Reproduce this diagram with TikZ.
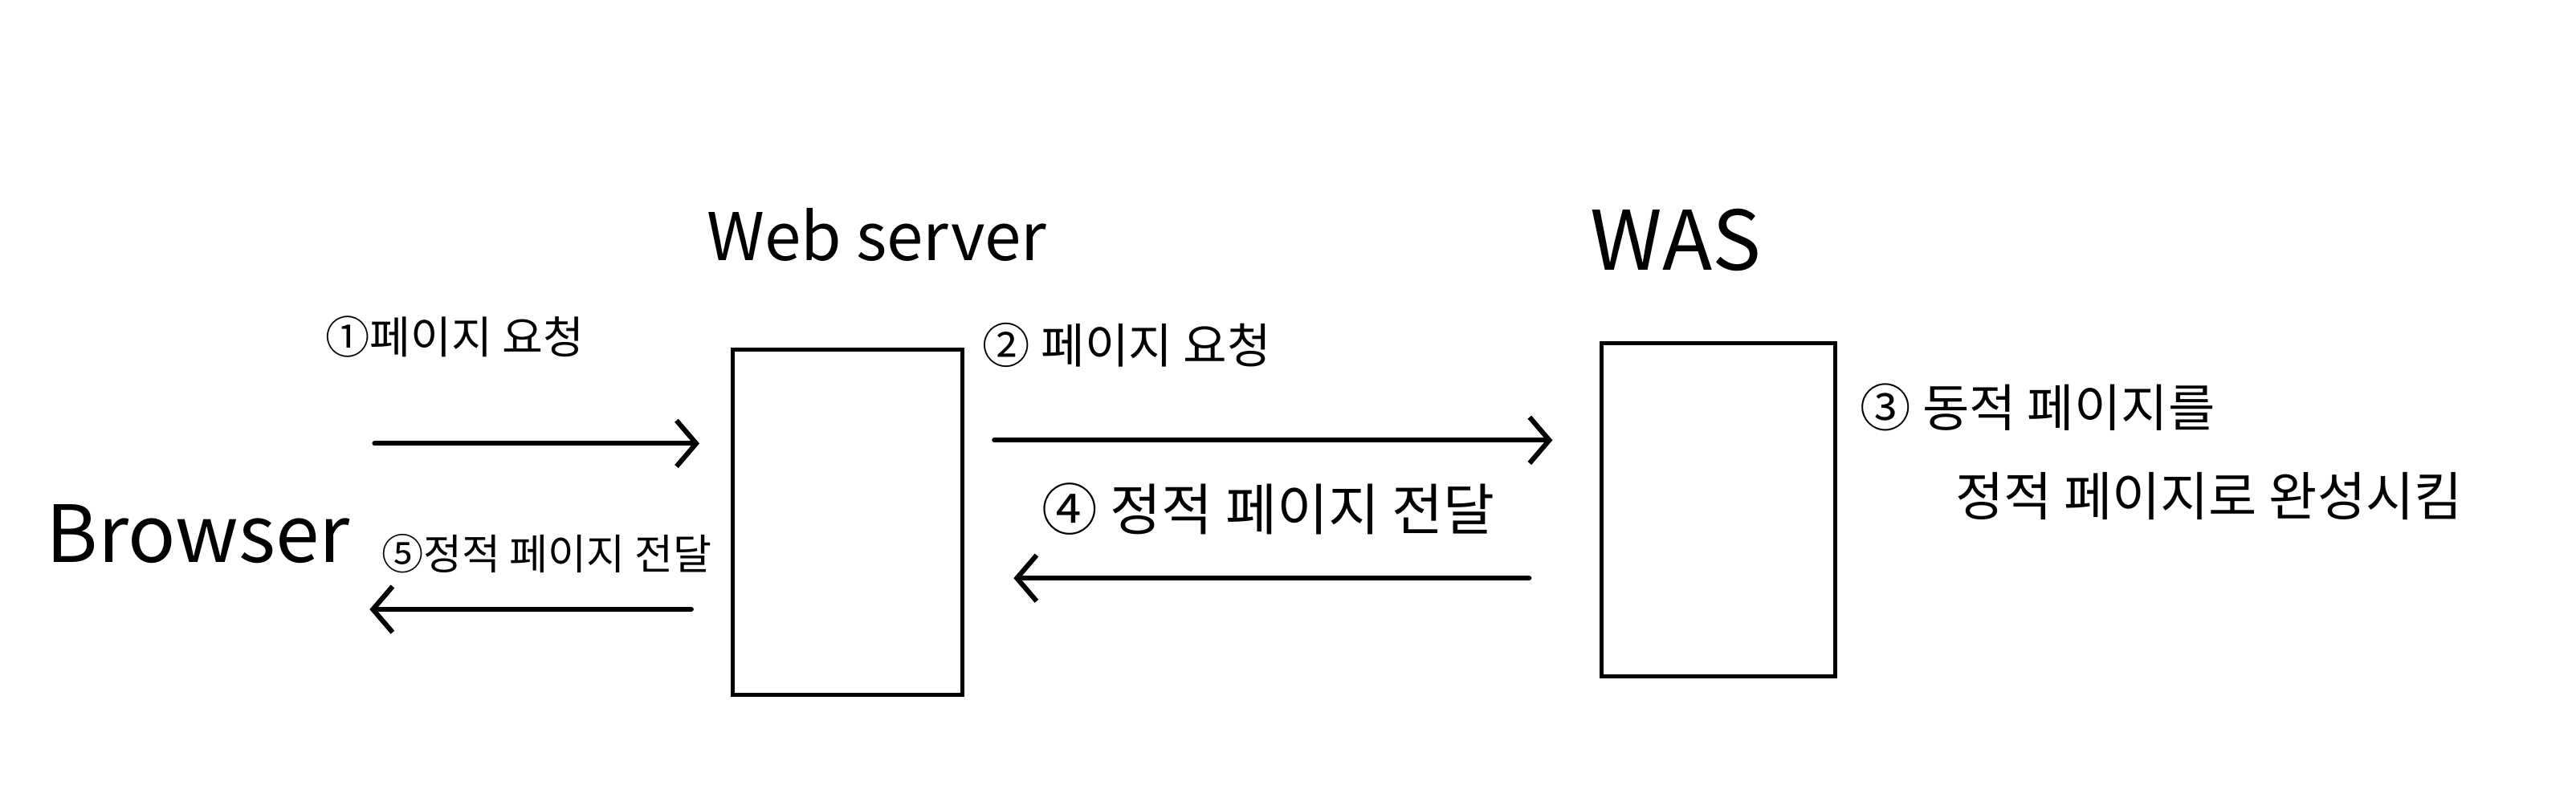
\documentclass[tikz,border=0pt]{standalone}
\usepackage{fontspec}
\setmainfont{Noto Sans CJK KR}
\usetikzlibrary{arrows.meta}
\definecolor{sketchInk}{HTML}{000000}
\tikzset{
  serverbox/.style={draw=sketchInk, line width=2.5pt, inner sep=0pt},
  flow/.style={draw=sketchInk, line width=3pt, line cap=round, -{Straight Barb[length=12pt, width=28pt, line width=3pt]}},
  hand/.style={text=sketchInk, inner sep=0pt, anchor=west, font=\fontsize{#1}{#1}\selectfont}
}

\begin{document}
\begin{tikzpicture}[x=1pt, y=-1pt]
\useasboundingbox (0,0) rectangle (1568,488);
% servers
\node[serverbox, minimum width=140pt, minimum height=210pt] (web) at (516,318) {};
\node[serverbox, minimum width=142pt, minimum height=203pt] (was) at (1046,310.5) {};
\node[hand=40] (webtitle) at (430,143) {Web server};
\node[hand=50] (wastitle) at (968,146) {WAS};
\node[hand=48] (browser) at (28,325) {Browser};
% steps
\foreach \x/\y/\sz/\lab [count=\i] in {198/205/27/{①페이지 요청}, 598/210/29/{② 페이지 요청}, 1132/248/31/{③ 동적 페이지를}, 634/310/34/{④ 정적 페이지 전달}, 232/337/25.5/{⑤정적 페이지 전달}} {
  \node[hand=\sz] (step\i) at (\x,\y) {\lab};
}
\node[hand=32] (step3b) at (1190,302) {정적 페이지로 완성시킴};
% arrows
\coordinate (req1) at (228,270);
\coordinate (res5) at (225,371);
\coordinate (req2) at (945,268);
\coordinate (res4) at (617,352);
\draw[flow] (req1) -- ([xshift=-19pt]req1 -| web.west);
\draw[flow] ([xshift=-24pt]res5 -| web.west) -- (res5);
\draw[flow] ([xshift=18pt]req2 -| web.east) -- (req2);
\draw[flow] ([xshift=-43pt]res4 -| was.west) -- (res4);
\end{tikzpicture}
\end{document}
